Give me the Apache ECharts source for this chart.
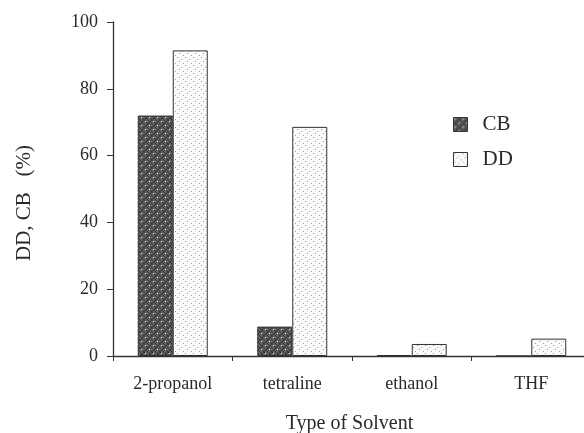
<!DOCTYPE html>
<html><head><meta charset="utf-8">
<script src="https://cdn.jsdelivr.net/npm/echarts@6/dist/echarts.min.js"></script>
<style>html,body{margin:0;padding:0;background:#fff}#c{width:584px;height:433px}</style>
</head><body><div id="c"></div>
<script>
const categories = ['2-propanol', 'tetraline', 'ethanol', 'THF'];
const cbValues = [72.0, 8.8, 0.3, 0];
const ddValues = [91.5, 68.6, 3.6, 5.2];
const yTicks = [0, 20, 40, 60, 80, 100];

function makePattern(kind) {
  const c = document.createElement('canvas');
  c.width = 8; c.height = 8;
  const g = c.getContext('2d');
  if (kind === 'cb') {
    g.fillStyle = '#626262'; g.fillRect(0, 0, 8, 8);
    g.fillStyle = '#363636';
    for (let i = 0; i < 8; i++) { g.fillRect(i, i, 1, 1); g.fillRect(i, (i + 4) % 8, 1, 1); g.fillRect(7 - i, i, 1, 1); }
    g.fillStyle = '#f4f4f4';
    g.fillRect(1, 1, 1, 1); g.fillRect(5, 5, 1, 1);
  } else {
    g.fillStyle = '#fafafa'; g.fillRect(0, 0, 8, 8);
    g.fillStyle = '#9a9a9a';
    g.fillRect(1, 1, 1, 1); g.fillRect(5, 3, 1, 1); g.fillRect(3, 5, 1, 1); g.fillRect(7, 7, 1, 1);
  }
  return { image: c, repeat: 'repeat' };
}

const font = "'Liberation Serif', 'DejaVu Serif', serif";
const chart = echarts.init(document.getElementById('c'), null, { renderer: 'canvas' });
chart.setOption({
  animation: false,
  backgroundColor: '#fff',
  textStyle: { fontFamily: font, color: '#2a2a2a' },
  grid: { left: 113, top: 22, width: 478, height: 334, outerBoundsMode: 'none', containLabel: false },
  legend: {
    left: 448, top: 109, orient: 'vertical', itemGap: 14, icon: 'rect',
    itemWidth: 14, itemHeight: 14, itemStyle: { borderColor: '#333', borderWidth: 1 },
    textStyle: { fontFamily: font, fontSize: 21, color: '#2a2a2a', padding: [0, 0, 0, 10] },
    data: ['CB', 'DD']
  },
  xAxis: {
    type: 'category', data: categories,
    name: 'Type of Solvent', nameLocation: 'middle', nameGap: 58,
    nameTextStyle: { fontFamily: font, fontSize: 20, color: '#2a2a2a', padding: [0, 5, 0, 0] },
    axisLine: { lineStyle: { color: '#333', width: 1.3 } },
    axisTick: { show: true, length: 5, lineStyle: { color: '#333' } },
    axisLabel: { fontFamily: font, fontSize: 18, color: '#2a2a2a', margin: 19 }
  },
  yAxis: {
    type: 'value', min: 0, max: 100, interval: 20,
    name: 'DD, CB   (%)', nameLocation: 'middle', nameGap: 78, nameRotate: 90,
    nameTextStyle: { fontFamily: font, fontSize: 21, color: '#2a2a2a', padding: [0, 28, 0, 0] },
    splitLine: { show: false },
    axisLine: { show: true, lineStyle: { color: '#333', width: 1.3 } },
    axisTick: { show: true, length: 6, lineStyle: { color: '#333' } },
    axisLabel: { fontFamily: font, fontSize: 18, color: '#2a2a2a', margin: 15,
      formatter: v => yTicks.includes(v) ? String(v) : '' }
  },
  series: [
    { name: 'CB', type: 'bar', data: cbValues, barWidth: 35, barGap: '0%',
      itemStyle: { color: makePattern('cb'), borderColor: '#333', borderWidth: 1 } },
    { name: 'DD', type: 'bar', data: ddValues, barWidth: 35, barGap: '0%',
      itemStyle: { color: makePattern('dd'), borderColor: '#333', borderWidth: 1 } }
  ]
});
</script></body></html>
